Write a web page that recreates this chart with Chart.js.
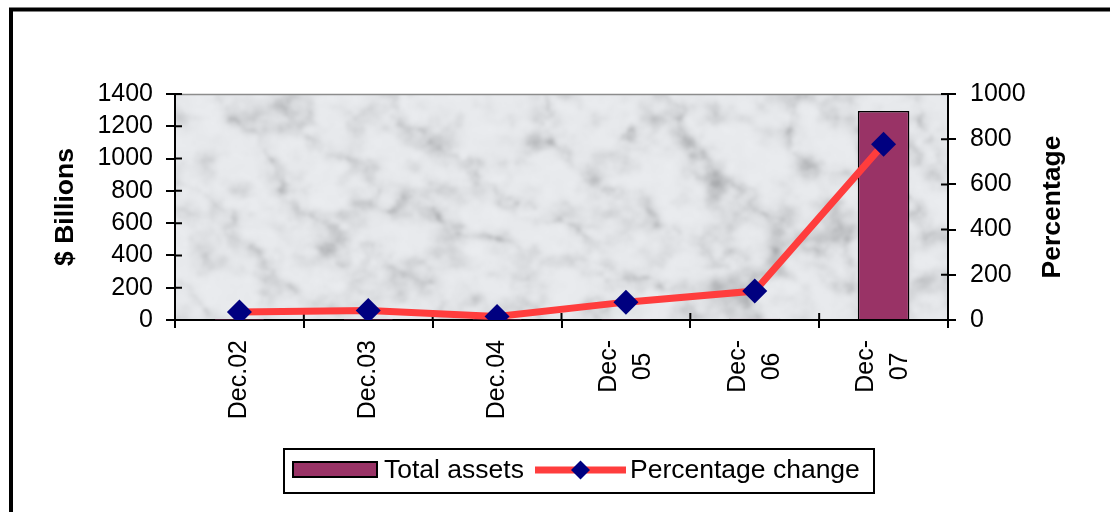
<!DOCTYPE html>
<html>
<head>
<meta charset="utf-8">
<script src="https://cdn.jsdelivr.net/npm/chart.js@4.4.1/dist/chart.umd.min.js"></script>
<style>
  html, body { margin: 0; padding: 0; background: #fff; overflow: hidden; }
  canvas { display: block; }
</style>
</head>
<body>
<canvas id="c" width="1110" height="512"></canvas>
<script>
// Categories (multi-line entries are drawn as stacked rotated lines)
const categories = [['Dec.02'], ['Dec.03'], ['Dec.04'], ['Dec-', '05'], ['Dec-', '06'], ['Dec-', '07']];
// Total assets, $ billions
const totalAssets = [1, 1, 1, 2, 8, 1295];
// Percentage change
const percentageChange = [35, 42, 16, 79, 128, 778];
// Axis ranges
const assetsAxis = { min: 0, max: 1400, step: 200 };
const percentAxis = { min: 0, max: 1000, step: 200 };

const FONT = '"Liberation Sans", Arial, Helvetica, sans-serif';
const BAR_COLOR = '#993366';
const LINE_COLOR = '#ff3d3d';
const MARKER_COLOR = '#000080';

// ---- marble-like plot background ----
function hash(x, y) {
  const s = Math.sin(x * 127.1 + y * 311.7) * 43758.5453;
  return s - Math.floor(s);
}
function vnoise(x, y) {
  const ix = Math.floor(x), iy = Math.floor(y);
  const fx = x - ix, fy = y - iy;
  const ux = fx * fx * (3 - 2 * fx), uy = fy * fy * (3 - 2 * fy);
  const a = hash(ix, iy), b = hash(ix + 1, iy), c = hash(ix, iy + 1), d = hash(ix + 1, iy + 1);
  return a + (b - a) * ux + (c - a) * uy + (a - b - c + d) * ux * uy;
}
function fbm(x, y) {
  let v = 0, amp = 0.5, f = 1;
  for (let i = 0; i < 5; i++) { v += amp * vnoise(x * f, y * f); f *= 2; amp *= 0.5; }
  return v;
}
let marbleCache = null;
function marble(w, h) {
  w = Math.max(1, Math.round(w)); h = Math.max(1, Math.round(h));
  if (marbleCache && marbleCache.width === w && marbleCache.height === h) return marbleCache;
  const cv = document.createElement('canvas');
  cv.width = w; cv.height = h;
  const g = cv.getContext('2d');
  const img = g.createImageData(w, h);
  for (let y = 0; y < h; y++) {
    for (let x = 0; x < w; x++) {
      const warp = fbm(x / 70, y / 55);
      const vein = Math.pow(1 - Math.abs(Math.sin((x * 0.8 - y * 0.9) / 30 + warp * 6)), 2.2);
      const cloud = Math.max(0, fbm(x / 30 + 11, y / 24 + 5) - 0.40) * 2.0;
      const grain = fbm(x / 12 + 3, y / 12 + 9);
      let lum = 238 - 60 * cloud * cloud - 38 * vein * grain * grain * 2 - 6 * grain;
      lum = Math.max(160, Math.min(246, lum));
      const k = (y * w + x) * 4;
      img.data[k] = lum - 3;
      img.data[k + 1] = lum - 1;
      img.data[k + 2] = lum + 2;
      img.data[k + 3] = 255;
    }
  }
  g.putImageData(img, 0, 0);
  // soften the pattern
  const out = document.createElement('canvas');
  out.width = w; out.height = h;
  const o = out.getContext('2d');
  o.filter = 'blur(1.6px)';
  o.drawImage(cv, 0, 0);
  marbleCache = out;
  return out;
}

function diamond(ctx, x, y, r) {
  ctx.beginPath();
  ctx.moveTo(x, y - r); ctx.lineTo(x + r, y); ctx.lineTo(x, y + r); ctx.lineTo(x - r, y);
  ctx.closePath();
  ctx.fill();
}

const decor = {
  id: 'decor',
  beforeDraw(chart) {
    const { ctx, chartArea: a } = chart;
    ctx.save();
    ctx.fillStyle = '#fff';
    ctx.fillRect(0, 0, chart.width, chart.height);
    ctx.fillStyle = '#e4e6e8';
    ctx.fillRect(a.left, a.top, a.right - a.left, a.bottom - a.top);
    ctx.drawImage(marble(a.right - a.left, a.bottom - a.top), a.left, a.top);
    // plot top edge
    ctx.strokeStyle = '#8c8c8c';
    ctx.lineWidth = 1.5;
    ctx.beginPath(); ctx.moveTo(a.left, a.top + 0.5); ctx.lineTo(a.right, a.top + 0.5); ctx.stroke();
    // outer frame
    ctx.strokeStyle = '#000';
    ctx.lineWidth = 4;
    ctx.strokeRect(11, 9.5, chart.width + 40, chart.height + 40);
    ctx.restore();
  },
  beforeDatasetsDraw(chart) {
    // short tick stubs inside the plot area
    const { ctx, chartArea: a, scales } = chart;
    ctx.save();
    ctx.strokeStyle = '#000';
    ctx.lineWidth = 2;
    ctx.beginPath();
    scales.y.ticks.forEach((t, i) => {
      const p = scales.y.getPixelForTick(i);
      ctx.moveTo(a.left, p); ctx.lineTo(a.left + 7, p);
    });
    scales.y1.ticks.forEach((t, i) => {
      const p = scales.y1.getPixelForTick(i);
      ctx.moveTo(a.right - 7, p); ctx.lineTo(a.right, p);
    });
    for (let i = 0; i <= chart.data.labels.length; i++) {
      const p = scales.x.getPixelForValue(i - 0.5);
      ctx.moveTo(p, a.bottom - 7); ctx.lineTo(p, a.bottom);
    }
    ctx.stroke();
    ctx.restore();
  },
  afterDraw(chart) {
    const { ctx, chartArea: a, scales } = chart;
    ctx.save();
    ctx.fillStyle = '#000';

    // category labels, rotated, lines centred on the category
    ctx.font = '25px ' + FONT;
    chart.data.labels.forEach((lines, i) => {
      const px = scales.x.getPixelForValue(i);
      const maxW = Math.max(...lines.map(l => ctx.measureText(l).width));
      const cy = a.bottom + 20 + maxW / 2;
      lines.forEach((l, j) => {
        const cx = px + (j - (lines.length - 1) / 2) * 34;
        ctx.save();
        ctx.translate(cx, cy);
        ctx.rotate(-Math.PI / 2);
        ctx.textAlign = 'center';
        ctx.textBaseline = 'middle';
        ctx.fillText(l, 0, 0);
        ctx.restore();
      });
    });

    // axis titles
    const midY = (a.top + a.bottom) / 2;
    ctx.font = 'bold 26.5px ' + FONT;
    [['$ Billions', 66], ['Percentage', 1053]].forEach(([t, x]) => {
      ctx.save();
      ctx.translate(x, midY);
      ctx.rotate(-Math.PI / 2);
      ctx.textAlign = 'center';
      ctx.textBaseline = 'middle';
      ctx.fillText(t, 0, 0);
      ctx.restore();
    });

    // legend
    const bar = chart.data.datasets.find(d => d.type === 'bar');
    const line = chart.data.datasets.find(d => d.type === 'line');
    ctx.fillStyle = '#fff';
    ctx.fillRect(284, 449, 590, 44);
    ctx.strokeStyle = '#000';
    ctx.lineWidth = 2;
    ctx.strokeRect(284, 449, 590, 44);
    ctx.fillStyle = bar.backgroundColor;
    ctx.fillRect(293, 462, 84, 15);
    ctx.strokeRect(293, 462, 84, 15);
    ctx.strokeStyle = line.borderColor;
    ctx.lineWidth = 7;
    ctx.beginPath(); ctx.moveTo(535, 470); ctx.lineTo(626, 470); ctx.stroke();
    ctx.fillStyle = MARKER_COLOR;
    diamond(ctx, 580.5, 470, 9.5);
    ctx.fillStyle = '#000';
    ctx.font = '26.5px ' + FONT;
    ctx.textAlign = 'left';
    ctx.textBaseline = 'alphabetic';
    ctx.fillText(bar.label, 384, 478);
    ctx.fillText(line.label, 630, 478);
    ctx.restore();
  }
};

const tickFont = { family: FONT, size: 25 };
const plainNumber = v => String(v);

new Chart(document.getElementById('c'), {
  data: {
    labels: categories,
    datasets: [
      {
        type: 'line',
        label: 'Percentage change',
        data: percentageChange,
        yAxisID: 'y1',
        borderColor: LINE_COLOR,
        borderWidth: 7,
        pointStyle: 'rectRot',
        pointRadius: 12.5,
        pointBackgroundColor: MARKER_COLOR,
        pointBorderColor: MARKER_COLOR,
        pointBorderWidth: 0,
        tension: 0,
        order: 0
      },
      {
        type: 'bar',
        label: 'Total assets',
        data: totalAssets,
        yAxisID: 'y',
        backgroundColor: BAR_COLOR,
        borderColor: '#000',
        borderWidth: 1.5,
        categoryPercentage: 1,
        barPercentage: 0.4,
        order: 1
      }
    ]
  },
  options: {
    responsive: false,
    animation: false,
    devicePixelRatio: 1,
    layout: { padding: { top: 94, left: 0, right: 0, bottom: 0 } },
    plugins: { legend: { display: false }, tooltip: { enabled: false } },
    scales: {
      x: {
        type: 'category',
        offset: true,
        grid: { offset: true, drawOnChartArea: false, color: '#000', lineWidth: 2, tickLength: 8 },
        border: { color: '#000', width: 2 },
        ticks: { display: false },
        afterFit(s) { s.height = 192; }
      },
      y: {
        position: 'left',
        min: assetsAxis.min,
        max: assetsAxis.max,
        grid: { drawOnChartArea: false, color: '#000', lineWidth: 2, tickLength: 9 },
        border: { color: '#000', width: 2 },
        ticks: { stepSize: assetsAxis.step, autoSkip: false, color: '#000', font: tickFont, padding: 13, callback: plainNumber },
        afterFit(s) { s.width = 175; }
      },
      y1: {
        position: 'right',
        min: percentAxis.min,
        max: percentAxis.max,
        grid: { drawOnChartArea: false, color: '#000', lineWidth: 2, tickLength: 8 },
        border: { color: '#000', width: 2 },
        ticks: { stepSize: percentAxis.step, autoSkip: false, color: '#000', font: tickFont, padding: 14, callback: plainNumber },
        afterFit(s) { s.width = 162; }
      }
    }
  },
  plugins: [decor]
});
</script>
</body>
</html>
